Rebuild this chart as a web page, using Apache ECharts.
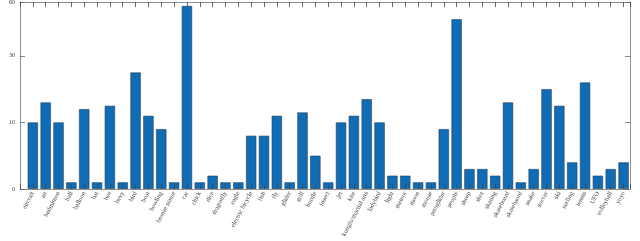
<!DOCTYPE html>
<html>
<head>
<meta charset="utf-8">
<script src="https://cdn.jsdelivr.net/npm/echarts@6/dist/echarts.min.js"></script>
<style>
html,body{margin:0;padding:0;background:#fff;}
#c{width:640px;height:241px;}
</style>
</head>
<body>
<div id="c"></div>
<script>
const categories = ['aircraft','art','badminton','ball','balloon','bat','bee','bevy','bird','boat',
  'bowling','bronze statue','car','chick','dice','dragonfly','eagle','electric bicycle','fish','fly',
  'glider','golf','hurdle','insect','jet','kite','kungfu/martial arts','ladybird','light','meteor',
  'moon','mouse','paraglider','people','sheep','shot','skating','skateboard','skatebaord','snake',
  'soccer','ski','surfing','tennis','UFO','volleyball','yoyo'];
const counts = [10,13,10,1,12,1,12.5,1,17.5,11,
  9,1,27.5,1,2,1,1,8,8,11,
  1,11.5,5,1,10,11,13.5,10,2,2,
  1,1,9,25.5,3,3,2,13,1,3,
  15,12.5,4,16,2,3,4];
const yTickLabels = ['0','10','30'];
const yTopLabel = '60';
const yMax = 28.1;
const xMax = 47.5;

const chart = echarts.init(document.getElementById('c'), null, {renderer:'canvas'});
const axisColor = '#8f8f8f';
const font = 'Liberation Serif';
const xBase = {
  type:'value', min:0, max:xMax, interval:1, z:5,
  axisLine:{show:true, onZero:false, lineStyle:{color:axisColor, width:1}},
  axisTick:{show:true, inside:true, length:5, lineStyle:{color:'#444', width:0.8}},
  splitLine:{show:false}
};
const yBase = {
  type:'value', min:0, max:yMax, interval:10, z:5,
  axisLine:{show:true, onZero:false, lineStyle:{color:axisColor, width:1}},
  axisTick:{show:true, inside:true, length:5, lineStyle:{color:'#666', width:0.8}},
  splitLine:{show:false}
};
chart.setOption({
  backgroundColor:'#fff',
  animation:false,
  grid:{left:20, right:10, top:2, bottom:52, containLabel:false, outerBoundsMode:'none'},
  xAxis:[
    Object.assign({}, xBase, {position:'bottom',
      axisLabel:{show:true, rotate:62, fontSize:6.5, fontFamily:font, color:'#444', margin:3,
        formatter:function(v){ const i=Math.round(v); return (Math.abs(v-i)<1e-6 && i>=1 && i<=categories.length) ? categories[i-1] : ''; }}}),
    Object.assign({}, xBase, {position:'top', axisLabel:{show:false}})
  ],
  yAxis:[
    Object.assign({}, yBase, {position:'left', name:'Number', nameLocation:'middle', nameGap:15,
      nameTextStyle:{fontSize:6.5, fontFamily:font, color:'#444'},
      axisLabel:{show:true, fontSize:6, fontFamily:font, color:'#444', margin:5,
        showMaxLabel:true,
        formatter:function(v){ if (Math.abs(v-yMax)<1e-6) return yTopLabel; const k=Math.round(v/10); return yTickLabels[k] || ''; }}}),
    Object.assign({}, yBase, {position:'right', axisLabel:{show:false}})
  ],
  series:[{
    type:'bar', xAxisIndex:0, yAxisIndex:0,
    barWidth:10.3,
    data: counts.map(function(v,i){ return [i+1, v]; }),
    itemStyle:{color:'#106cb4', borderColor:'#22405e', borderWidth:0.6}
  }]
});
</script>
</body>
</html>
